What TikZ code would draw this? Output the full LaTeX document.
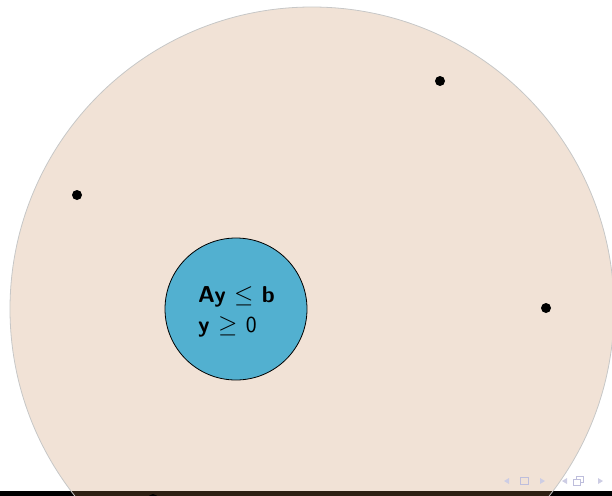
\documentclass[tikz,border=0pt]{standalone}
\begin{document}
\begin{tikzpicture}[x=1pt,y=-1pt,
  bigregion/.style={fill={rgb,255:red,196;green,134;blue,82}, fill opacity=0.24},
  feasible/.style={circle, draw=black, line width=0.8pt, fill={rgb,255:red,82;green,176;blue,208}, minimum size=142pt, inner sep=0pt},
  conds/.style={align=left, inner sep=0pt, font=\sffamily\bfseries\fontsize{23}{30}\selectfont},
  soldot/.style={circle, fill=black, minimum size=10pt, inner sep=0pt},
  navsym/.style={fill={rgb,255:red,205;green,205;blue,228}},
  navbox/.style={draw={rgb,255:red,190;green,190;blue,220}, line width=0.9pt}
]
\useasboundingbox (0,0) rectangle (612,495);
\clip (0,0) rectangle (612,495);
\fill[black] (0,491) rectangle (612,497);
\fill[bigregion] (312,309) circle (302);
\draw[draw=black!22, line width=0.8pt] (312,309) circle (302);
\node[feasible] (feas) at (236,309) {};
\node[conds] (feastext) at (236.5,311.5) {Ay $\leq$ b\\[0pt]y $\geq$ {\mdseries 0}};
\node[soldot] (p1) at (440,81) {};
\node[soldot] (p2) at (77,195) {};
\node[soldot] (p3) at (546,308) {};
\node[soldot] (p4) at (153,499) {};
% navigation symbols
\fill[navsym] (504,481) -- (509,478) -- (509,484) -- cycle;
\draw[navbox] (520,477.5) rectangle (528,484);
\fill[navsym] (545,481) -- (540,478) -- (540,484) -- cycle;
\fill[navsym] (562,481) -- (567,478) -- (567,484) -- cycle;
\draw[navbox] (576,476.5) rectangle (583,482);
\fill[white] (573,479.5) rectangle (580,485);
\draw[navbox] (573,479.5) rectangle (580,485);
\fill[navsym] (603,481) -- (598,478) -- (598,484) -- cycle;
\end{tikzpicture}
\end{document}
